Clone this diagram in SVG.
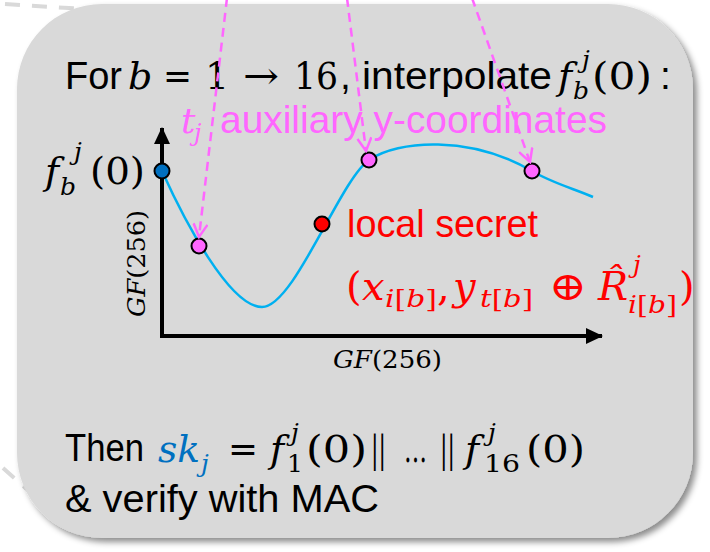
<svg xmlns="http://www.w3.org/2000/svg" width="710" height="552" viewBox="0 0 710 552">
<defs>
<filter id="shadow" x="-5%" y="-5%" width="115%" height="115%">
<feDropShadow dx="4" dy="4" stdDeviation="3" flood-color="#000" flood-opacity="0.45"/>
</filter>
<marker id="openArrow" markerWidth="16" markerHeight="16" refX="14" refY="8" orient="auto" markerUnits="userSpaceOnUse">
<path d="M1,1 L14,8 L1,15" fill="none" stroke="#FF66FF" stroke-width="2.5"/>
</marker>
<marker id="solidArrow" markerWidth="18" markerHeight="18" refX="16" refY="9" orient="auto" markerUnits="userSpaceOnUse">
<path d="M0,1 L17,9 L0,17 Z" fill="#000"/>
</marker>
<style>
.sans{font-family:"Liberation Sans",Arial,sans-serif;}
.serif{font-family:"DejaVu Serif","Liberation Serif",serif;}
.it{font-style:italic;}
.blk{fill:#000;}
.pink{fill:#FF66FF;}
.red{fill:#FF0000;}
.blue{fill:#0070C0;}
.pt{stroke:#000;stroke-width:2;}
.pinkdash{fill:none;stroke:#FF66FF;stroke-width:2.5;stroke-dasharray:9 6;marker-end:url(#openArrow);}
.graydash{fill:none;stroke:#D9D9D9;stroke-width:4;stroke-dasharray:15 12;}
</style>
</defs>

<g id="background-lines">
<line class="graydash" x1="5" y1="4" x2="100" y2="10"/>
<line class="graydash" x1="3" y1="468" x2="30" y2="492"/>
</g>

<g id="box">
<rect x="17" y="4" width="676" height="534" rx="85" ry="85" fill="#D9D9D9" filter="url(#shadow)"/>
</g>

<g id="title" font-size="39">
<text class="sans blk" x="65" y="89" textLength="57" lengthAdjust="spacingAndGlyphs">For</text>
<text class="serif it blk" x="128" y="89" font-size="38">b</text>
<text class="serif blk" x="163" y="89" font-size="38" textLength="29" lengthAdjust="spacingAndGlyphs">=</text>
<text class="serif blk" x="205" y="89" font-size="38">1</text>
<text class="serif blk" x="243" y="89" font-size="38" textLength="36" lengthAdjust="spacingAndGlyphs">→</text>
<text class="serif blk" x="294" y="89" font-size="38" textLength="44" lengthAdjust="spacingAndGlyphs">16</text>
<text class="sans blk" x="340" y="89">,</text>
<text class="sans blk" x="362" y="89" textLength="190" lengthAdjust="spacingAndGlyphs">interpolate</text>
<text class="serif it blk" x="558" y="89" font-size="38">f</text>
<text class="serif it blk" x="573" y="99" font-size="25">b</text>
<text class="serif it blk" x="582" y="68" font-size="25">j</text>
<text class="serif blk" x="592" y="89" font-size="38" textLength="60" lengthAdjust="spacingAndGlyphs">(0)</text>
<text class="sans blk" x="660" y="89">:</text>
</g>

<g id="aux-label" font-size="39">
<text class="serif it pink" x="181" y="133" font-size="36">t</text>
<text class="serif it pink" x="194" y="141" font-size="24">j</text>
<text class="sans pink" x="220" y="133" textLength="387" lengthAdjust="spacingAndGlyphs">auxiliary y-coordinates</text>
</g>

<g id="axes">
<line x1="162" y1="338" x2="162" y2="128" stroke="#000" stroke-width="4" marker-end="url(#solidArrow)"/>
<line x1="160" y1="336" x2="602" y2="336" stroke="#000" stroke-width="4" marker-end="url(#solidArrow)"/>
<text class="serif blk" x="0" y="0" font-size="24" transform="translate(145,317) rotate(-90)" textLength="107" lengthAdjust="spacingAndGlyphs"><tspan font-style="italic">GF</tspan>(256)</text>
<text class="serif blk" x="333" y="368" font-size="24" textLength="109" lengthAdjust="spacingAndGlyphs"><tspan font-style="italic">GF</tspan>(256)</text>
</g>

<g id="y-label">
<text class="serif it blk" x="45" y="184" font-size="38">f</text>
<text class="serif it blk" x="60" y="195" font-size="25">b</text>
<text class="serif it blk" x="74" y="160" font-size="25">j</text>
<text class="serif blk" x="90" y="184" font-size="38" textLength="55" lengthAdjust="spacingAndGlyphs">(0)</text>
</g>

<g id="curve">
<path d="M162,171 C185,222 230,307 262,307 C294,307 340,180 369,160 C398,140 470,135 532,171 C552,183 575,189 593,197" fill="none" stroke="#00B0F0" stroke-width="2.5"/>
</g>

<g id="points">
<circle class="pt blue" cx="162" cy="171" r="7.5"/>
<circle class="pt pink" cx="199" cy="246" r="7.5"/>
<circle class="pt red" cx="322" cy="224" r="7.5"/>
<circle class="pt pink" cx="369" cy="160" r="7.5"/>
<circle class="pt pink" cx="532" cy="171" r="7.5"/>
</g>

<g id="local-secret">
<text class="sans red" x="347" y="237" font-size="39" textLength="191" lengthAdjust="spacingAndGlyphs">local secret</text>
<text class="serif red" x="346" y="300" font-size="40">(</text>
<text class="serif it red" x="362" y="300" font-size="40">x</text>
<text class="serif red" x="385" y="307" font-size="25" textLength="52" lengthAdjust="spacingAndGlyphs"><tspan font-style="italic">i</tspan>[<tspan font-style="italic">b</tspan>]</text>
<text class="serif red" x="437" y="300" font-size="40">,</text>
<text class="serif it red" x="453" y="300" font-size="40">y</text>
<text class="serif red" x="480" y="307" font-size="25" textLength="53" lengthAdjust="spacingAndGlyphs"><tspan font-style="italic">t</tspan>[<tspan font-style="italic">b</tspan>]</text>
<text class="serif red" x="549" y="300" font-size="40" textLength="38" lengthAdjust="spacingAndGlyphs">⊕</text>
<text class="serif it red" x="598" y="300" font-size="40">R̂</text>
<text class="serif it red" x="633" y="273" font-size="25">j</text>
<text class="serif red" x="628" y="313" font-size="25" textLength="49" lengthAdjust="spacingAndGlyphs"><tspan font-style="italic">i</tspan>[<tspan font-style="italic">b</tspan>]</text>
<text class="serif red" x="679" y="300" font-size="40">)</text>
</g>

<g id="result">
<text class="sans blk" x="65" y="461" font-size="39" textLength="79" lengthAdjust="spacingAndGlyphs">Then</text>
<text class="serif it blue" x="158" y="462" font-size="38" textLength="42" lengthAdjust="spacingAndGlyphs">sk</text>
<text class="serif it blue" x="201" y="472" font-size="25">j</text>
<text class="serif blk" x="228" y="462" font-size="38" textLength="30" lengthAdjust="spacingAndGlyphs">=</text>
<text class="serif it blk" x="270" y="462" font-size="38">f</text>
<text class="serif blk" x="287" y="472" font-size="25">1</text>
<text class="serif it blk" x="291" y="441" font-size="25">j</text>
<text class="serif blk" x="306" y="462" font-size="38" textLength="61" lengthAdjust="spacingAndGlyphs">(0)</text>
<text class="serif blk" x="371" y="462" font-size="38" textLength="15" lengthAdjust="spacingAndGlyphs">||</text>
<text class="serif blk" x="404" y="462" font-size="38" textLength="23" lengthAdjust="spacingAndGlyphs">…</text>
<text class="serif blk" x="440" y="462" font-size="38" textLength="15" lengthAdjust="spacingAndGlyphs">||</text>
<text class="serif it blk" x="465" y="462" font-size="38">f</text>
<text class="serif blk" x="484" y="472" font-size="25" textLength="36" lengthAdjust="spacingAndGlyphs">16</text>
<text class="serif it blk" x="488" y="441" font-size="25">j</text>
<text class="serif blk" x="526" y="462" font-size="38" textLength="59" lengthAdjust="spacingAndGlyphs">(0)</text>
<text class="sans blk" x="65" y="512" font-size="39" textLength="314" lengthAdjust="spacingAndGlyphs">&amp; verify with MAC</text>
</g>

<g id="connectors">
<line class="pinkdash" x1="227" y1="-2" x2="199" y2="237"/>
<line class="pinkdash" x1="347" y1="-2" x2="366" y2="151"/>
<line class="pinkdash" x1="472" y1="-2" x2="530" y2="162"/>
</g>
</svg>
